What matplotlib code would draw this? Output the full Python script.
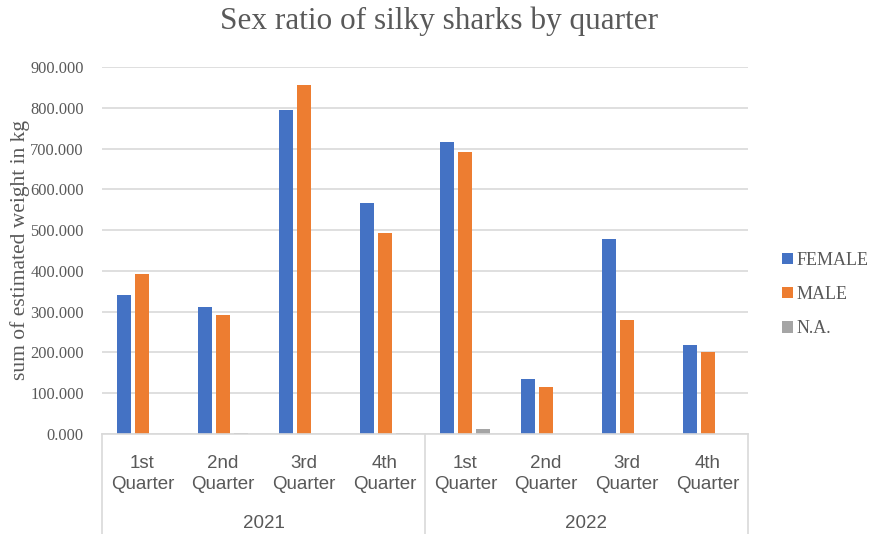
import matplotlib.pyplot as plt
import numpy as np
from matplotlib.lines import Line2D

years = ["2021", "2022"]
quarters = ["1st\nQuarter", "2nd\nQuarter", "3rd\nQuarter", "4th\nQuarter"]
female = [341, 311, 794, 566, 716, 135, 478, 218]
male = [392, 292, 856, 493, 691, 115, 279, 201]
na = [0, 2, 0, 1.5, 11.5, 0, 0, 0]

blue = "#4472C4"
orange = "#ED7D31"
grey = "#A5A5A5"
text_col = "#595959"
line_col = "#D9D9D9"

W, H = 877, 534
fig = plt.figure(figsize=(W / 100, H / 100), dpi=100)
left, right, bottom, top = 102, 748, 434, 67
ax = fig.add_axes([left / W, 1 - bottom / H, (right - left) / W, (bottom - top) / H])

n = len(female)
x = np.arange(n)
bw = 0.173
off = 0.223
ax.bar(x - off, female, bw, color=blue, label="FEMALE")
ax.bar(x, male, bw, color=orange, label="MALE")
ax.bar(x + off, na, bw, color=grey, label="N.A.")

ax.set_xlim(-0.5, n - 0.5)
ax.set_ylim(0, 900)
ax.set_yticks(range(0, 901, 100))
ax.set_yticklabels([f"{v}.000" for v in range(0, 901, 100)],
                   family="Liberation Serif", fontsize=11.8, color=text_col)
ax.yaxis.grid(True, color=line_col, linewidth=1.2)
ax.set_axisbelow(True)
ax.tick_params(axis="y", length=0, pad=13)
ax.tick_params(axis="x", length=0)
ax.set_xticks([])
for s in ["top", "right", "left"]:
    ax.spines[s].set_visible(False)
ax.spines["bottom"].set_color(line_col)
ax.spines["bottom"].set_linewidth(1.2)

ax.set_ylabel("sum of estimated weight in kg", family="Liberation Serif",
              fontsize=15.5, color=text_col, labelpad=0)

# category labels below the axis
for i in range(n):
    fx = (left + (i + 0.5) * (right - left) / n) / W
    fig.text(fx, 1 - 474 / H, quarters[i % 4], ha="center", va="center",
             family="Liberation Sans", fontsize=13.5, color=text_col, linespacing=1.3)
for j, yr in enumerate(years):
    fx = (left + (j * 4 + 2) * (right - left) / n) / W
    fig.text(fx, 1 - 524 / H, yr, ha="center", va="center",
             family="Liberation Sans", fontsize=13.5, color=text_col)

# group separators
for px in [left, (left + right) / 2, right]:
    fig.add_artist(Line2D([px / W, px / W], [1 - bottom / H, 0], color=line_col,
                          linewidth=1.2))

fig.suptitle("Sex ratio of silky sharks by quarter", x=439.5 / W,
             y=1 - 21 / H, va="center", family="Liberation Serif", fontsize=22.5,
             color=text_col)

leg = ax.legend(loc="center left", bbox_to_anchor=((775 - left) / (right - left), 0.38),
                frameon=False, prop={"family": "Liberation Serif", "size": 13},
                handlelength=0.6, handleheight=0.6, handletextpad=0.2, labelspacing=0.95,
                borderaxespad=0)
for t in leg.get_texts():
    t.set_color(text_col)

fig.savefig("out.png", dpi=100)
